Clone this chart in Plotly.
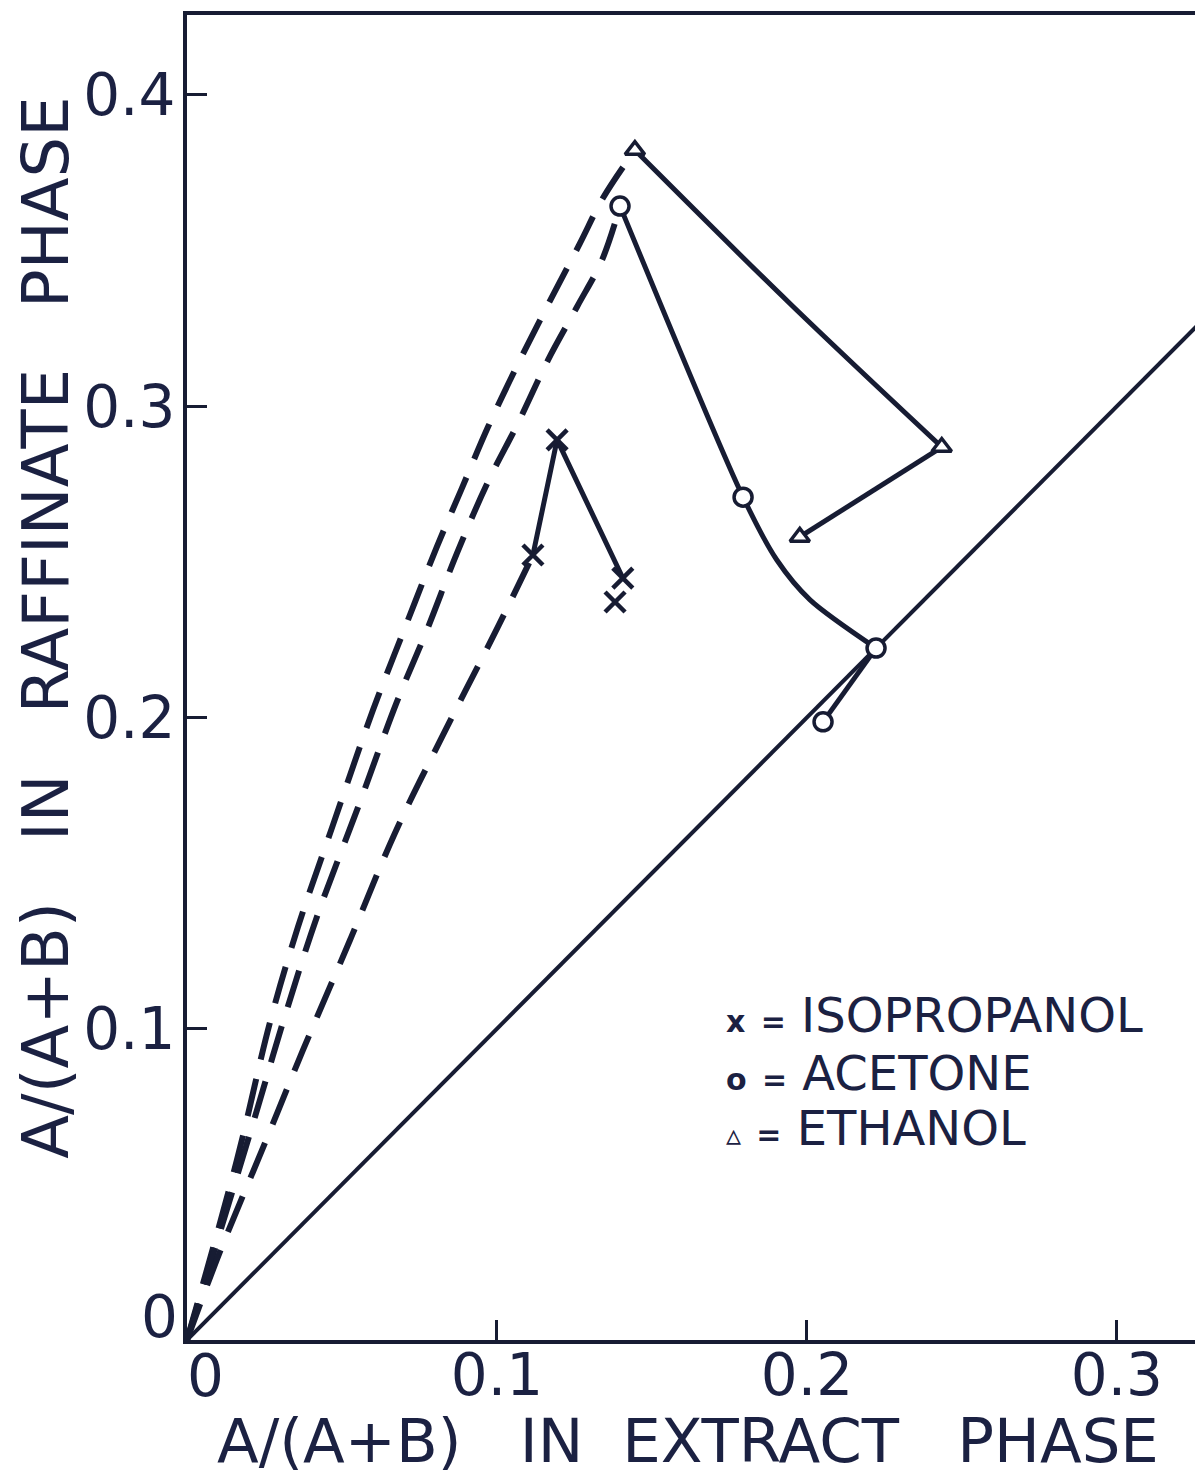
import plotly.graph_objects as go

# ---------------- data ----------------
# equilibrium tie points
ethanol_x = [0.1445, 0.2435, 0.1977]
ethanol_y = [0.3823, 0.2869, 0.2580]
acetone_x = [0.1397, 0.1794, 0.2223, 0.2052]
acetone_y = [0.3643, 0.2708, 0.2223, 0.1986]
isopropanol_x = [0.1194, 0.1116, 0.1406, 0.1381]
isopropanol_y = [0.2892, 0.2522, 0.2448, 0.2371]

# solid connecting curves
ethanol_curve_x = [0.1445, 0.1945, 0.2435]
ethanol_curve_y = [0.3823, 0.3330, 0.2869]
ethanol_back_x = [0.2435, 0.1977]
ethanol_back_y = [0.2869, 0.2580]
acetone_curve_x = [0.1397, 0.1794, 0.1903, 0.2010, 0.2223]
acetone_curve_y = [0.3643, 0.2708, 0.2506, 0.2378, 0.2223]
acetone_back_x = [0.2223, 0.2052]
acetone_back_y = [0.2223, 0.1986]
isopropanol_curve_x = [0.1116, 0.1194, 0.1406]
isopropanol_curve_y = [0.2522, 0.2892, 0.2448]

# dashed curves from the origin
ethanol_dash_x = [0.0, 0.0161, 0.0268, 0.0358, 0.0471, 0.0600, 0.0703, 0.0806,
                  0.0887, 0.0971, 0.1058, 0.1161, 0.1268, 0.1342, 0.1445]
ethanol_dash_y = [0.0, 0.0578, 0.1022, 0.1327, 0.1655, 0.2024, 0.2288, 0.2548,
                  0.2737, 0.2933, 0.3116, 0.3319, 0.3524, 0.3669, 0.3823]
acetone_dash_x = [0.0, 0.0219, 0.0310, 0.0419, 0.0552, 0.0677, 0.0774, 0.0871,
                  0.0971, 0.1065, 0.1165, 0.1258, 0.1339, 0.1397]
acetone_dash_y = [0.0, 0.0716, 0.1022, 0.1359, 0.1712, 0.2050, 0.2281, 0.2528,
                  0.2757, 0.2940, 0.3149, 0.3319, 0.3470, 0.3643]
isopropanol_dash_x = [0.0, 0.0106, 0.0242, 0.0374, 0.0526, 0.0671, 0.0826, 0.1003, 0.1116]
isopropanol_dash_y = [0.0, 0.0283, 0.0610, 0.0931, 0.1285, 0.1629, 0.1944, 0.2291, 0.2522]

# 45-degree line
diag_x = [0.0, 0.33]
diag_y = [0.0, 0.33]

x_ticks = [0.1, 0.2, 0.3]
x_tick_text = ["0.1", "0.2", "0.3"]
y_ticks = [0.1, 0.2, 0.3, 0.4]
y_tick_text = ["0.1", "0.2", "0.3", "0.4"]

legend_lines = [("x", "ISOPROPANOL"), ("o", "ACETONE"), ("\u25b5", "ETHANOL")]

# ---------------- styling ----------------
INK = "#171c33"
TXT = "#1b2142"
FONT = "DejaVu Sans"

fig = go.Figure()

def add_line(x, y, dash=None, width=5, shape="linear", smoothing=1.0):
    fig.add_trace(go.Scatter(
        x=x, y=y, mode="lines",
        line=dict(color=INK, width=width, dash=dash, shape=shape, smoothing=smoothing),
        hoverinfo="skip", showlegend=False))

add_line(diag_x, diag_y, width=4)
add_line(ethanol_dash_x, ethanol_dash_y, dash="38px,20px", width=6, shape="spline")
add_line(acetone_dash_x, acetone_dash_y, dash="38px,20px", width=6, shape="spline")
add_line(isopropanol_dash_x, isopropanol_dash_y, dash="38px,20px", width=6, shape="spline")
add_line(ethanol_curve_x, ethanol_curve_y, width=5, shape="spline")
add_line(ethanol_back_x, ethanol_back_y, width=5)
add_line(acetone_curve_x, acetone_curve_y, width=5, shape="spline", smoothing=0.8)
add_line(acetone_back_x, acetone_back_y, width=5)
add_line(isopropanol_curve_x, isopropanol_curve_y, width=5)

fig.add_trace(go.Scatter(
    x=ethanol_x, y=ethanol_y, mode="markers", name="ETHANOL",
    marker=dict(symbol="triangle-up", size=17, color="white",
                line=dict(color=INK, width=3.5)),
    showlegend=False))
fig.add_trace(go.Scatter(
    x=acetone_x, y=acetone_y, mode="markers", name="ACETONE",
    marker=dict(symbol="circle", size=18, color="white",
                line=dict(color=INK, width=3.5)),
    showlegend=False))
fig.add_trace(go.Scatter(
    x=isopropanol_x, y=isopropanol_y, mode="markers", name="ISOPROPANOL",
    marker=dict(symbol="x-thin-open", size=20, color=INK,
                line=dict(color=INK, width=4.5)),
    showlegend=False))

annotations = []
# legend text
legend_y = [0.2453, 0.2015, 0.1600]
for (sym, lab), yy in zip(legend_lines, legend_y):
    annotations.append(dict(
        xref="paper", yref="paper", x=0.533, y=yy, xanchor="left", yanchor="middle",
        text=f"<b><span style='font-size:30px'>{sym}</span></b> <b><span style='font-size:30px'>=</span></b> {lab}",
        showarrow=False, font=dict(family=FONT, size=48, color=TXT)))

# zero labels
annotations.append(dict(xref="paper", yref="paper", x=-0.027, y=0.017,
                        text="0", showarrow=False, xanchor="center", yanchor="middle",
                        font=dict(family=FONT, size=58, color=TXT)))
annotations.append(dict(xref="paper", yref="paper", x=0.018, y=-0.027,
                        text="0", showarrow=False, xanchor="center", yanchor="middle",
                        font=dict(family=FONT, size=58, color=TXT)))
# axis titles
annotations.append(dict(xref="paper", yref="paper", x=0.0278, y=-0.0762,
                        text="A/(A+B)   IN  EXTRACT   PHASE", showarrow=False,
                        xanchor="left", yanchor="middle",
                        font=dict(family=FONT, size=61, color=TXT)))
annotations.append(dict(xref="paper", yref="paper", x=-0.140, y=0.5375,
                        text="A/(A+B)   IN   RAFFINATE   PHASE", showarrow=False,
                        textangle=-90, xanchor="center", yanchor="middle",
                        font=dict(family=FONT, size=64, color=TXT)))

fig.update_layout(
    width=1195, height=1478,
    margin=dict(l=187, r=0, t=15, b=138),
    paper_bgcolor="white", plot_bgcolor="white",
    annotations=annotations,
    showlegend=False,
)
fig.update_xaxes(
    range=[0, 0.3252], showgrid=False, zeroline=False,
    showline=True, mirror=True, linecolor=INK, linewidth=4,
    ticks="inside", ticklen=20, tickwidth=3, tickcolor=INK,
    tickvals=x_ticks, ticktext=x_tick_text,
    tickfont=dict(family=FONT, size=58, color=TXT), ticklabelstandoff=-19,
)
fig.update_yaxes(
    range=[0, 0.4257], showgrid=False, zeroline=False,
    showline=True, mirror=False, linecolor=INK, linewidth=4,
    ticks="inside", ticklen=20, tickwidth=3, tickcolor=INK,
    tickvals=y_ticks, ticktext=y_tick_text,
    tickfont=dict(family=FONT, size=58, color=TXT), ticklabelstandoff=-4,
)

fig.write_html("out.html")
